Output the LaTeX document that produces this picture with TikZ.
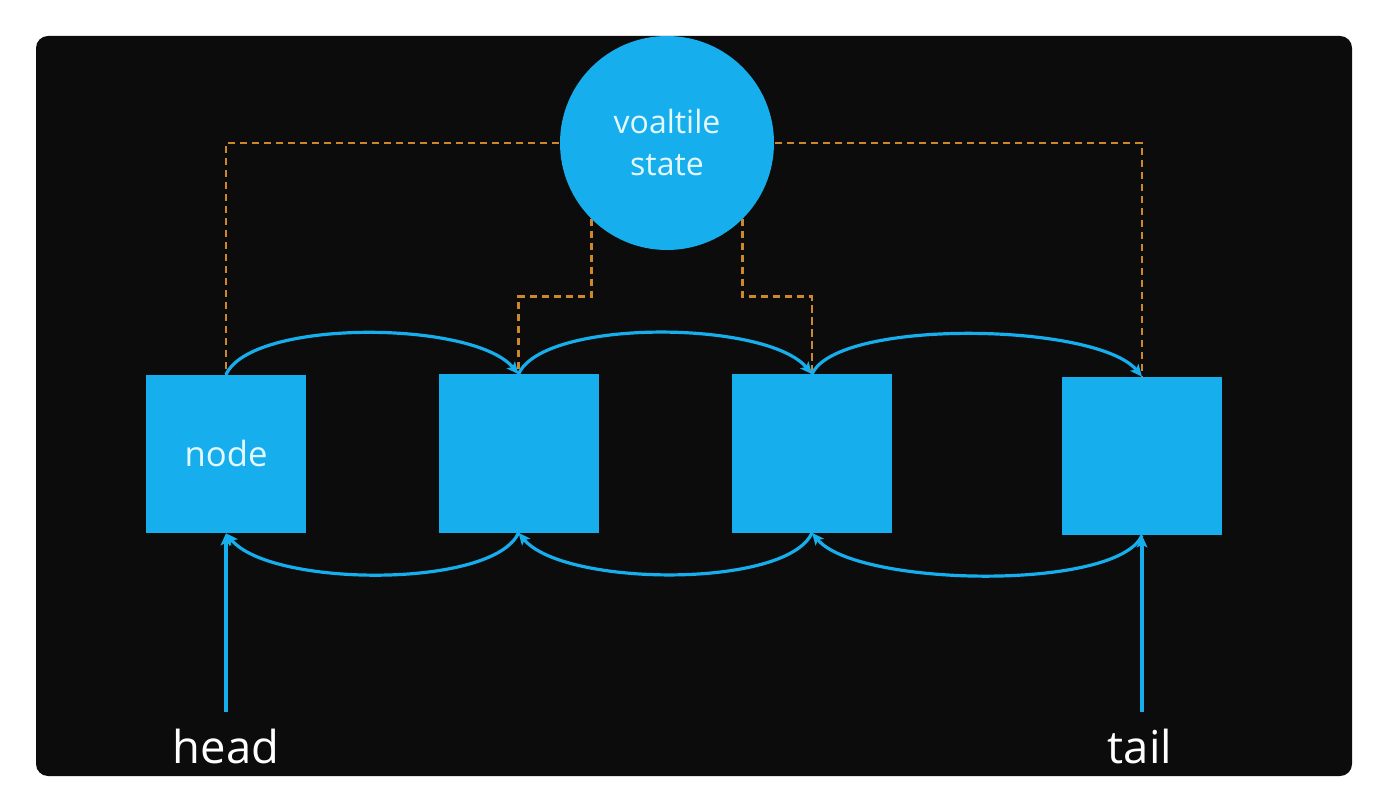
\documentclass[tikz,border=0pt]{standalone}
\usepackage{fontspec}
\setmainfont{Open Sans}
\usetikzlibrary{arrows.meta,backgrounds}
\definecolor{nblue}{RGB}{22,174,236}
\definecolor{ntext}{RGB}{228,249,255}
\definecolor{dorange}{RGB}{205,135,45}
\definecolor{board}{RGB}{12,12,12}
\begin{document}
\begin{tikzpicture}[x=0.75pt,y=-0.75pt,
  box/.style={fill=nblue,draw=none,minimum width=120pt,minimum height=119pt,inner sep=0pt,outer sep=0pt,text=ntext,font=\fontsize{26}{30}\selectfont},
  statecirc/.style={circle,fill=nblue,draw=none,minimum size=160.5pt,inner sep=0pt,outer sep=0pt,text=ntext,align=center,font=\fontsize{24}{31.5}\selectfont},
  link/.style={draw=nblue,line width=2.4pt,-{Stealth[length=9pt,width=8pt,inset=2pt]}},
  dashline/.style={draw=dorange,line width=1.8pt,dash pattern=on 5.5pt off 3.5pt},
  lbl/.style={text=white,inner sep=0pt,font=\fontsize{34}{40}\selectfont}]
\useasboundingbox (0,0) rectangle (1388,812);
\begin{scope}[on background layer]
  \fill[white] (0,0) rectangle (1388,812);
  \fill[board, rounded corners=9pt] (36,36) rectangle (1352,776);
\end{scope}
% nodes
\node[statecirc] (st) at (667,143) {voaltile\\state};
\node[box] (n1) at (226,454) {node};
\node[box] (n2) at (518.5,453.5) {};
\node[box] (n3) at (812,453.5) {};
\node[box] (n4) at (1142,456) {};
\node[lbl] (head) at (226,746) {head};
\node[lbl] (tail) at (1140,746) {tail};
% dashed links from the state
\begin{scope}[on background layer]
  \draw[dashline] (st.center) -| (n1.north);
  \draw[dashline] (st.center) -| (n4.north);
  \draw[dashline] (st.south west) -- ++(0,78) -| (n2.north);
  \draw[dashline] (st.south east) -- ++(0,78) -| (n3.north);
\end{scope}
% next links
\draw[link] (n1.north) .. controls +(25,-56) and +(-45,-54) .. (n2.north);
\draw[link] (n2.north) .. controls +(25,-56) and +(-45,-54) .. (n3.north);
\draw[link] (n3.north) .. controls +(25,-56) and +(-45,-54) .. (n4.north);
% prev links
\draw[link] (n2.south) .. controls +(-25,56) and +(45,54) .. (n1.south);
\draw[link] (n3.south) .. controls +(-25,56) and +(45,54) .. (n2.south);
\draw[link] (n4.south) .. controls +(-25,56) and +(45,54) .. (n3.south);
% head and tail pointers
\coordinate (hs) at (226,712);
\coordinate (ts) at (1142,712);
\draw[link] (hs) -- (n1.south);
\draw[link] (ts) -- (n4.south);
\end{tikzpicture}
\end{document}
